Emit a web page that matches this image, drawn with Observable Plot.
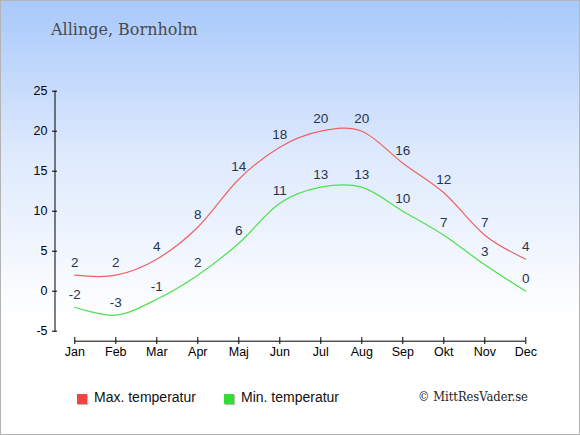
<!DOCTYPE html>
<html>
<head>
<meta charset="utf-8">
<script src="https://cdn.jsdelivr.net/npm/d3@7"></script>
<script src="https://cdn.jsdelivr.net/npm/@observablehq/plot@0.6"></script>
<style>
  html, body { margin: 0; padding: 0; }
  #wrap {
    position: relative; width: 580px; height: 435px; box-sizing: border-box;
    border: 1px solid #b4b4b4;
    background: linear-gradient(to bottom, #a8c9fb 0px, #dde9fd 150px, #ffffff 320px, #ffffff 435px);
    overflow: hidden;
  }
  #title {
    position: absolute; left: 50px; top: 19px; white-space: nowrap;
    font-family: "DejaVu Serif", serif; font-size: 16px; color: #4a4a4a;
  }
  #chart { position: absolute; left: -1px; top: -1px; width: 580px; height: 435px; }
  #chart svg { max-width: none; }
  .leg { position: absolute; top: 388px; font-family: "Liberation Sans", Arial, sans-serif; font-size: 14px; color: #111; }
  .sw { position: absolute; top: 5px; width: 10px; height: 10px; box-shadow: 1px 1px 1px #bbb; }
  .leg span.t { position: absolute; left: 17px; top: 0; white-space: nowrap; }
  #copy { position: absolute; left: 417px; top: 388px; font-family: "DejaVu Serif Condensed", "DejaVu Serif", serif; font-stretch: condensed; font-size: 12.8px; color: #222; white-space: nowrap; }
</style>
</head>
<body>
<div id="wrap">
  <div id="chart"></div>
  <div id="title">Allinge, Bornholm</div>
  <div class="leg" style="left:76px"><div class="sw" style="background:#ee4444"></div><span class="t">Max. temperatur</span></div>
  <div class="leg" style="left:223px"><div class="sw" style="background:#33dd33"></div><span class="t">Min. temperatur</span></div>
  <div id="copy">© MittResVader.se</div>
</div>
<script>
const months = ["Jan","Feb","Mar","Apr","Maj","Jun","Jul","Aug","Sep","Okt","Nov","Dec"];
const maxTemp = [2, 2, 4, 8, 14, 18, 20, 20, 16, 12.3, 7, 4];
const minTemp = [-2, -3, -1, 2, 6, 11, 13, 13, 10, 7, 3.3, 0];
const maxLabels = ["2","2","4","8","14","18","20","20","16","12","7","4"];
const minLabels = ["-2","-3","-1","2","6","11","13","13","10","7","3","0"];
const yTicks = [-5, 0, 5, 10, 15, 20, 25];

const idx = months.map((m, i) => i);
const maxData = months.map((m, i) => ({i, month: m, value: maxTemp[i], label: maxLabels[i]}));
const minData = months.map((m, i) => ({i, month: m, value: minTemp[i], label: minLabels[i]}));

const labelColor = "#26344f";
const plot = Plot.plot({
  width: 580,
  height: 435,
  marginTop: 90.7,
  marginBottom: 435 - 330.7,
  marginLeft: 54.5,
  marginRight: 50,
  style: {background: "transparent", fontFamily: "'Liberation Sans', Arial, sans-serif", fontSize: "12.5px", color: "#000", maxWidth: "none"},
  x: {type: "linear", domain: [0, 11], range: [74.3, 525.3]},
  y: {domain: [-5, 25]},
  marks: [
    Plot.frame({anchor: "left", stroke: "#000"}),
    Plot.ruleY([-5], {x1: 0, x2: 11, dy: 10, stroke: "#000"}),
    Plot.axisY(yTicks, {tickSize: 5, dx: 2.5, tickPadding: 5, label: null, stroke: "#000", fill: "#000", tickFormat: d => String(d)}),
    Plot.axisX(idx, {tickSize: 7, dy: 6.3, tickPadding: 3, label: null, stroke: "#000", fill: "#000", tickFormat: i => months[i]}),
    Plot.line(maxData, {x: "i", y: "value", stroke: "#f06262", strokeWidth: 1.2, curve: "cardinal"}),
    Plot.line(minData, {x: "i", y: "value", stroke: "#4ee04e", strokeWidth: 1.2, curve: "cardinal"}),
    Plot.text(maxData, {x: "i", y: "value", text: "label", dy: -13, fill: labelColor, fontSize: 13.5}),
    Plot.text(minData, {x: "i", y: "value", text: "label", dy: -13, fill: labelColor, fontSize: 13.5})
  ]
});
document.getElementById("chart").appendChild(plot);
</script>
</body>
</html>
